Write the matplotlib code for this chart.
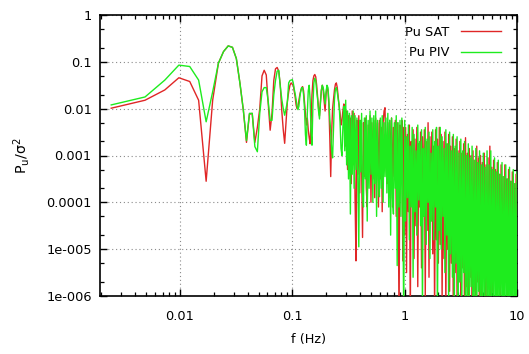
import numpy as np
import matplotlib
matplotlib.use('Agg')
import matplotlib.pyplot as plt
from matplotlib.ticker import FixedLocator, FixedFormatter, NullFormatter
from matplotlib.lines import Line2D

# ---------------- data (log10 of Pu/sigma^2) ----------------
# low-frequency part: bins k*df, df = 20/8192 Hz, k = 1..40
sample_rate = 20.0
n_fft = 8192
k_low = list(range(1, 41))

sat_low_log = [-1.99, -1.82, -1.60, -1.34, -1.42, -1.82, -3.55, -1.82, -1.03, -0.78,
               -0.66, -0.69, -0.93, -1.46, -2.03, -2.72, -2.12, -2.10, -2.72, -2.40,
               -2.00, -1.30, -1.18, -1.28, -1.90, -2.46, -2.10, -1.40, -1.15, -1.12,
               -1.20, -1.50, -2.05, -2.45, -2.74, -2.30, -1.85, -1.64, -1.50, -1.45]
piv_low_log = [-1.92, -1.75, -1.39, -1.07, -1.10, -1.39, -2.28, -1.64, -1.03, -0.78,
               -0.66, -0.69, -0.93, -1.46, -2.03, -2.68, -2.10, -2.10, -2.81, -2.92,
               -2.10, -1.64, -1.55, -1.55, -1.85, -2.25, -2.25, -1.71, -1.40, -1.20,
               -1.18, -1.53, -1.80, -2.00, -2.14, -2.00, -1.85, -1.45, -1.40, -1.39]

# high-frequency part: 241 log-spaced frequencies from 0.1 to 10 Hz
f_high_start, f_high_stop, n_high = 0.1, 10.0, 241

sat_high_log = [
    -1.48, -1.50, -1.62, -1.75, -1.92, -2.00, -1.95, -1.82, -1.70, -1.62,
    -1.55, -1.53, -1.62, -1.85, -2.10, -2.35, -2.20, -2.45, -2.62, -2.75,
    -2.30, -1.70, -1.40, -1.30, -1.27, -1.32, -1.50, -1.75, -2.00, -2.15,
    -1.85, -1.60, -1.50, -1.62, -1.85, -2.05, -1.70, -1.52, -1.60, -1.90,
    -2.60, -3.45, -2.50, -2.00, -1.80, -1.60, -1.48, -1.45, -1.55, -1.75,
    -1.95, -2.10, -2.35, -2.25, -2.05, -1.90,
    -1.95, -2.80, -2.05, -3.30, -2.15, -3.10, -2.20, -3.60, -2.05, -3.20,
    -2.10, -3.90, -5.25, -2.25, -3.40, -2.15, -3.80, -2.25, -3.30, -4.75,
    -2.30, -3.45, -2.20, -3.70, -4.10, -2.35, -3.35, -2.15, -4.00, -2.30,
    -3.50, -2.25, -3.90, -2.20, -3.40, -2.30, -4.10, -2.25, -3.50, -2.40,
    -4.20, -2.30, -2.05, -1.98, -3.10, -3.60, -2.30, -3.90, -2.25, -3.50,
    -2.20, -4.10, -2.40, -3.45, -2.25, -4.30, -2.30, -3.80, -6.50, -2.35,
    -3.60, -2.25, -5.25, -2.40,
    -4.70, -2.40, -5.50, -2.55, -4.20, -2.35, -6.50, -2.70, -4.00, -2.45,
    -5.20, -2.65, -4.50, -2.40, -5.80, -2.75, -4.10, -2.50, -5.40, -2.60,
    -4.30, -2.45, -6.00, -2.70, -4.60, -2.30, -5.60, -2.60, -4.40, -2.50,
    -5.10, -2.80, -6.40, -2.45, -4.80, -2.65, -5.30, -2.40, -4.90, -2.55,
    -6.10, -2.70, -5.20, -2.50, -6.30, -2.75, -5.00, -2.55, -5.90, -2.80,
    -5.30, -2.60, -6.60, -2.85, -5.50, -2.65, -6.20, -2.90, -5.70, -2.70,
    -6.50, -2.95, -5.40, -2.75, -6.80, -2.62, -5.80, -2.95, -6.30, -2.85,
    -5.60, -3.00, -6.70, -2.90, -5.90, -3.10, -6.40, -2.80, -5.70, -3.05,
    -6.90, -3.00, -6.10, -3.15, -5.60, -2.95, -6.50, -3.20, -6.00, -3.05,
    -5.70, -2.80, -6.60, -3.25, -5.90, -3.10, -5.50, -3.30, -6.70, -3.15,
    -5.60, -3.40, -6.30, -3.20, -5.40, -3.45, -6.80, -3.20, -5.70, -3.50,
    -6.40, -3.30, -5.50, -3.55, -6.70, -3.35, -5.65, -3.60, -6.20, -3.40,
    -5.80]

piv_high_log = [
    -1.38, -1.45, -1.58, -1.68, -1.80, -1.95, -2.02, -1.95, -1.75, -1.62,
    -1.55, -1.55, -1.70, -2.00, -2.55, -2.78, -2.10, -1.62, -1.50, -1.80,
    -2.50, -2.78, -1.90, -1.45, -1.35, -1.40, -1.62, -1.80, -2.05, -2.22,
    -1.90, -1.62, -1.50, -1.55, -1.70, -1.90, -1.65, -1.50, -1.55, -1.80,
    -2.20, -2.50, -2.90, -3.05, -2.40, -1.80, -1.58, -1.55, -1.65, -1.80,
    -1.92, -2.30, -2.85, -3.00, -2.40, -1.95,
    -2.90, -1.82, -3.20, -2.05, -3.50, -2.10, -4.25, -2.15, -3.40, -2.05,
    -3.70, -2.15, -3.30, -2.20, -3.60, -4.95, -2.25, -3.35, -2.10, -3.80,
    -4.10, -2.20, -3.50, -2.15, -4.40, -2.25, -3.70, -2.05, -3.40, -2.20,
    -4.00, -2.15, -3.60, -2.05, -4.30, -2.25, -3.50, -3.88, -2.20, -3.70,
    -2.15, -4.00, -2.30, -3.45, -2.20, -3.80, -2.10, -4.10, -2.25, -4.70,
    -2.20, -3.90, -4.25, -2.30, -3.70, -2.15, -5.35, -2.30, -4.10, -2.25,
    -4.30, -2.20, -3.90, -6.50,
    -2.25, -4.40, -2.60, -3.90, -2.35, -4.80, -2.80, -4.10, -2.40, -5.60,
    -2.55, -4.20, -2.90, -4.70, -2.35, -3.95, -2.70, -4.50, -2.45, -6.30,
    -2.85, -4.30, -2.40, -4.90, -2.65, -4.00, -2.50, -5.20, -2.95, -4.40,
    -2.45, -4.80, -2.70, -4.10, -2.40, -6.60, -2.80, -4.60, -2.40, -5.00,
    -2.60, -4.30, -2.85, -5.50, -2.45, -4.70, -2.75, -6.20, -2.50, -5.10,
    -2.90, -5.60, -2.55, -6.50, -2.80, -5.30, -2.60, -6.80, -2.95, -5.70,
    -2.65, -6.40, -2.90, -5.50, -2.70, -7.00, -3.00, -6.00, -2.75, -6.60,
    -3.05, -5.80, -2.80, -6.90, -3.10, -6.20, -2.85, -6.70, -3.15, -5.90,
    -2.90, -7.00, -3.20, -6.30, -2.95, -6.80, -3.25, -6.10, -2.90, -7.00,
    -3.20, -6.50, -2.90, -6.90, -3.30, -6.20, -3.05, -7.00, -3.35, -6.60,
    -3.10, -6.90, -3.40, -6.30, -3.15, -7.00, -3.45, -6.70, -3.20, -6.40,
    -3.50, -7.00, -3.25, -6.60, -3.55, -6.90, -3.30, -6.50, -3.60, -7.00,
    -3.35]

series_labels = ["Pu SAT", "Pu PIV"]
x_tick_vals = [0.01, 0.1, 1, 10]
x_tick_labels = ["0.01", "0.1", "1", "10"]
y_tick_vals = [1e-6, 1e-5, 1e-4, 1e-3, 1e-2, 1e-1, 1]
y_tick_labels = ["1e-006", "1e-005", "0.0001", "0.001", "0.01", "0.1", "1"]

# ---------------- build arrays ----------------
df = sample_rate / n_fft
freq = np.concatenate([np.array(k_low) * df,
                       np.geomspace(f_high_start, f_high_stop, n_high)])
sat = 10 ** np.array(sat_low_log + sat_high_log)
piv = 10 ** np.array(piv_low_log + piv_high_log)

# ---------------- figure ----------------
W, H = 529, 354
fig = plt.figure(figsize=(W / 100, H / 100), dpi=100)
ax = fig.add_axes([100 / W, 1 - 296 / H, 417 / W, 281 / H])

red = '#e02626'
green = '#1eec1e'
ax.plot(freq, sat, color=red, lw=1.0, label=series_labels[0], zorder=3)
ax.plot(freq, piv, color=green, lw=1.0, label=series_labels[1], zorder=4)

ax.set_xscale('log')
ax.set_yscale('log')
ax.set_xlim(0.00194, 10)
ax.set_ylim(1e-6, 1)

ax.xaxis.set_major_locator(FixedLocator(x_tick_vals))
ax.xaxis.set_major_formatter(FixedFormatter(x_tick_labels))
xminor = [m * 10.0 ** e for e in range(-3, 1) for m in range(2, 10)]
ax.xaxis.set_minor_locator(FixedLocator(xminor))
ax.xaxis.set_minor_formatter(NullFormatter())

ax.yaxis.set_major_locator(FixedLocator(y_tick_vals))
ax.yaxis.set_major_formatter(FixedFormatter(y_tick_labels))
yminor = [m * 10.0 ** e for e in range(-6, 0) for m in (2, 5)]
ax.yaxis.set_minor_locator(FixedLocator(yminor))
ax.yaxis.set_minor_formatter(NullFormatter())

fs = 9.3
ax.tick_params(which='both', direction='in', top=True, right=True, color='black')
ax.tick_params(which='major', length=5, width=1.0)
ax.tick_params(which='minor', length=3, width=0.9)
ax.tick_params(axis='x', which='major', pad=10, labelsize=fs)
ax.tick_params(axis='y', which='major', pad=6, labelsize=fs)

for s in ax.spines.values():
    s.set_linewidth(1.2)
    s.set_color('black')

ax.grid(True, which='major', color='#8a8a8a', linestyle=(0, (1, 2.5)), lw=0.8)
ax.set_axisbelow(True)

ax.set_xlabel('f (Hz)', fontsize=fs, labelpad=7)
ax.set_ylabel(r'$\mathregular{P_u/\sigma^2}$', fontsize=fs + 1, labelpad=10)

handles = [Line2D([0], [0], color=red, lw=1.0), Line2D([0], [0], color=green, lw=1.0)]
leg = ax.legend(handles, series_labels, loc='upper right', frameon=False,
                markerfirst=False, fontsize=fs, handlelength=3.1, handletextpad=0.9,
                labelspacing=0.55, borderpad=0, borderaxespad=0,
                bbox_to_anchor=(501 / W, 1 - 26 / H), bbox_transform=fig.transFigure)
for t in leg.get_texts():
    t.set_ha('right')

fig.savefig('out.png', dpi=100)
